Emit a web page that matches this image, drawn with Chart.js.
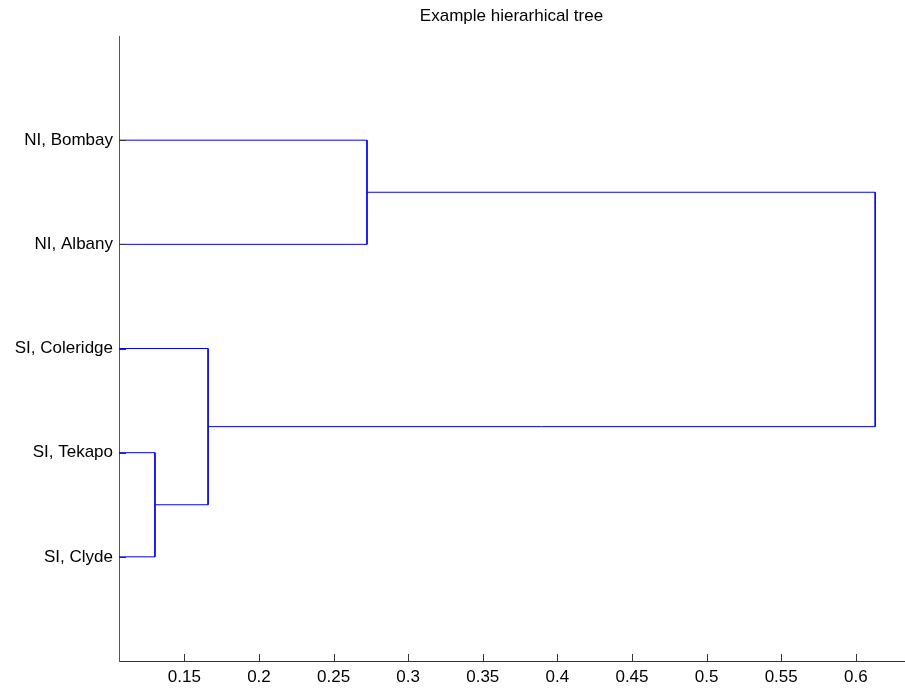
<!DOCTYPE html>
<html>
<head>
<meta charset="utf-8">
<script src="https://cdn.jsdelivr.net/npm/chart.js@4.4.1/dist/chart.umd.min.js"></script>
<style>
  body { margin: 0; background: #fff; }
  canvas { display: block; }
</style>
</head>
<body>
<canvas id="canvas" width="905" height="689"></canvas>
<script>
// leaves, bottom to top (node ids 1..5)
var leafNames = ['SI, Clyde', 'SI, Tekapo', 'SI, Coleridge', 'NI, Albany', 'NI, Bombay'];
// linkage: pairs of node ids joined, new clusters get ids 6, 7, 8, 9
var mergePairs = [[2, 1], [3, 6], [5, 4], [8, 7]];
var mergeHeights = [0.1303, 0.1659, 0.2724, 0.613];
var xTicks = [0.15, 0.2, 0.25, 0.3, 0.35, 0.4, 0.45, 0.5, 0.55, 0.6];
var xMin = 0.1062, xMax = 0.6323;

var font = "'Liberation Sans', Arial, Helvetica, sans-serif";

// build the U shaped links from the linkage
var nodePos = {}, nodeHeight = {};
leafNames.forEach(function (n, i) {
    nodePos[i + 1] = i + 1;
    nodeHeight[i + 1] = 0;
});
var datasets = mergePairs.map(function (p, i) {
    var a = p[0], b = p[1], h = mergeHeights[i];
    var id = leafNames.length + i + 1;
    nodePos[id] = (nodePos[a] + nodePos[b]) / 2;
    nodeHeight[id] = h;
    return {
        data: [
            { x: nodeHeight[a], y: nodePos[a] },
            { x: h, y: nodePos[a] },
            { x: h, y: nodePos[b] },
            { x: nodeHeight[b], y: nodePos[b] }
        ],
        showLine: true,
        borderColor: '#0000ff',
        borderWidth: 1,
        pointRadius: 0,
        clip: 0
    };
});

// MATLAB style ticks pointing into the axes
var innerTicks = {
    id: 'innerTicks',
    afterDatasetsDraw: function (chart) {
        var ctx = chart.ctx, a = chart.chartArea;
        var x = chart.scales.x, y = chart.scales.y;
        ctx.save();
        ctx.strokeStyle = '#333';
        ctx.lineWidth = 1;
        ctx.beginPath();
        xTicks.forEach(function (v) {
            var px = Math.round(x.getPixelForValue(v)) + 0.5;
            ctx.moveTo(px, a.bottom);
            ctx.lineTo(px, a.bottom - 7);
        });
        leafNames.forEach(function (n, i) {
            var py = Math.round(y.getPixelForValue(i + 1)) + 0.5;
            ctx.moveTo(a.left, py);
            ctx.lineTo(a.left + 7, py);
        });
        ctx.stroke();
        ctx.restore();
    }
};

new Chart(document.getElementById('canvas'), {
    type: 'scatter',
    data: { datasets: datasets },
    plugins: [innerTicks],
    options: {
        responsive: false,
        animation: false,
        layout: { padding: { right: 1 } },
        plugins: {
            legend: { display: false },
            tooltip: { enabled: false },
            title: {
                display: true,
                text: 'Example hierarhical tree',
                fullSize: false,
                color: '#000',
                font: { family: font, size: 17, weight: 'normal' },
                padding: { top: 6, bottom: 9.6 }
            }
        },
        scales: {
            x: {
                type: 'linear',
                min: xMin,
                max: xMax,
                afterBuildTicks: function (s) {
                    s.ticks = xTicks.map(function (v) { return { value: v }; });
                },
                afterFit: function (s) { s.height = 28; },
                grid: { drawOnChartArea: false, drawTicks: false },
                border: { display: true, color: '#333', width: 1 },
                ticks: {
                    color: '#000',
                    padding: 6,
                    maxRotation: 0,
                    autoSkip: false,
                    font: { family: font, size: 17 },
                    callback: function (v) { return String(v); }
                }
            },
            y: {
                type: 'linear',
                min: 0,
                max: 6,
                afterBuildTicks: function (s) {
                    s.ticks = leafNames.map(function (n, i) { return { value: i + 1 }; });
                },
                afterFit: function (s) { s.width = 119; },
                grid: { drawOnChartArea: false, drawTicks: false },
                border: { display: true, color: '#555', width: 1 },
                ticks: {
                    color: '#000',
                    padding: 6,
                    autoSkip: false,
                    font: { family: font, size: 17 },
                    callback: function (v) { return leafNames[v - 1]; }
                }
            }
        }
    }
});
</script>
</body>
</html>
